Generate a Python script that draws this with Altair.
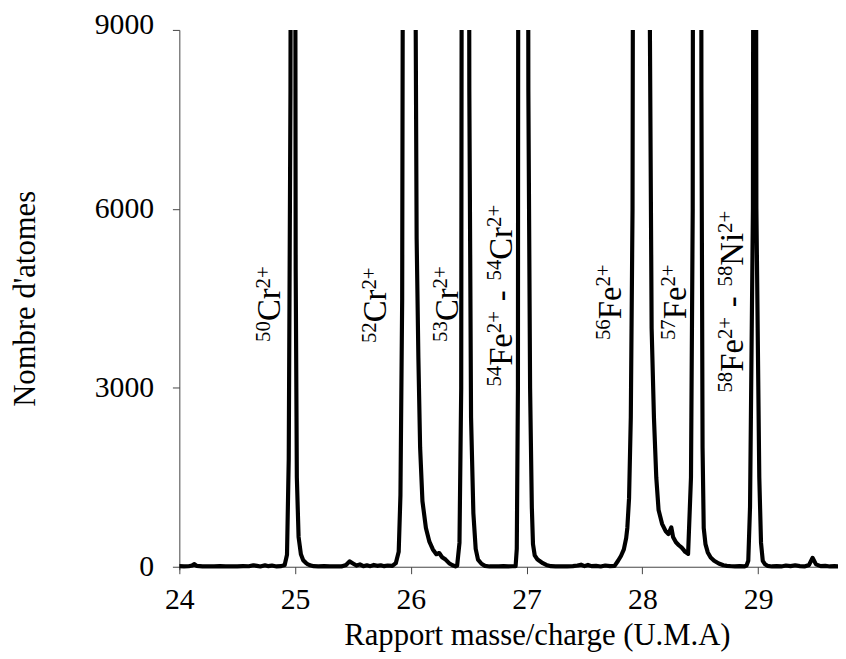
import altair as alt
import pandas as pd

# ---------------- data ----------------
mz = [
    24.00, 24.04, 24.08, 24.11, 24.13, 24.15, 24.20, 24.25, 24.30, 24.35, 24.40, 24.45,
    24.50, 24.55, 24.60, 24.64, 24.67, 24.70, 24.74, 24.77, 24.80, 24.84, 24.88, 24.91,
    24.93, 24.945, 24.96, 24.975, 24.99, 25.005, 25.015, 25.03, 25.05, 25.07, 25.09, 25.11,
    25.13, 25.16,
    25.20, 25.25, 25.30, 25.35, 25.40, 25.44, 25.47, 25.50, 25.53, 25.56, 25.59, 25.62,
    25.65, 25.68, 25.71, 25.74, 25.77, 25.80, 25.84, 25.87,
    25.895, 25.91, 25.925, 25.94, 25.99, 26.035, 26.05, 26.065, 26.08, 26.10, 26.13, 26.16,
    26.19, 26.22, 26.245, 26.27, 26.30, 26.33, 26.36, 26.385,
    26.40, 26.42, 26.435, 26.45, 26.49, 26.505, 26.52, 26.54, 26.56, 26.58, 26.61, 26.64,
    26.68,
    26.72, 26.76, 26.80, 26.84, 26.88,
    26.905, 26.915, 26.925, 26.935, 27.00, 27.015, 27.03, 27.045, 27.055, 27.07, 27.09,
    27.11, 27.14, 27.17, 27.21,
    27.25, 27.30, 27.35, 27.40, 27.44, 27.47, 27.50, 27.53, 27.56, 27.60, 27.64, 27.68,
    27.72, 27.76,
    27.79, 27.815, 27.84, 27.86, 27.87, 27.885, 27.90, 27.915, 27.935, 28.05, 28.065,
    28.08, 28.10, 28.12, 28.14, 28.17, 28.20, 28.225, 28.25, 28.265, 28.29, 28.315,
    28.34, 28.37, 28.395,
    28.42, 28.435, 28.445, 28.50, 28.51, 28.52, 28.53, 28.545, 28.565, 28.59, 28.62,
    28.66, 28.70, 28.73, 28.77,
    28.80, 28.84, 28.88,
    28.90, 28.915, 28.93, 28.955, 28.97, 28.985, 29.01, 29.025, 29.04, 29.06, 29.08,
    29.12, 29.16, 29.20, 29.24, 29.28, 29.32, 29.36, 29.40, 29.44, 29.47, 29.50, 29.54,
    29.58, 29.62, 29.66, 29.72,
]
atoms = [
    10, 5, 8, 20, 45, 15, 5, 8, 5, 10, 5, 8,
    5, 10, 8, 25, 15, 5, 25, 10, 20, 5, 10, 30,
    200, 1800, 8000, 30000, 30000, 5000, 1500, 500, 210, 110, 70, 40,
    25, 10,
    5, 10, 5, 8, 5, 30, 90, 55, 20, 40, 10, 25,
    10, 30, 15, 25, 10, 20, 15, 60,
    250, 1200, 4500, 20000, 30000, 12000, 5500, 3500, 2000, 1100, 650, 420,
    290, 210, 230, 160, 120, 60, 25, 5,
    20, 400, 3000, 30000, 30000, 8000, 2500, 900, 300, 120, 50, 15,
    5,
    8, 5, 10, 5, 8,
    10, 300, 3000, 30000, 30000, 8000, 3000, 1000, 380, 190, 130,
    100, 60, 30, 10,
    5, 8, 5, 10, 20, 35, 10, 30, 10, 15, 5, 20,
    10, 15,
    100, 180, 290, 480, 650, 1150, 2500, 6000, 30000, 30000, 9000,
    4000, 2500, 1500, 950, 720, 600, 550, 660, 500, 410, 360,
    320, 250, 215,
    1500, 6000, 30000, 30000, 8000, 2000, 650, 380, 240, 155, 100,
    55, 25, 15, 8,
    5, 10, 5,
    20, 100, 1000, 6000, 30000, 6000, 1500, 400, 100, 40, 15,
    5, 10, 5, 20, 10, 25, 10, 5, 30, 150, 40, 10,
    15, 5, 10, 5,
]

x_ticks = [24, 25, 26, 27, 28, 29]
y_ticks = [0, 3000, 6000, 9000]

# Peak labels: anchor (m/z, atoms) of the start of each rotated label
label_x = [24.873, 25.789, 26.406, 26.877, 27.818, 28.375, 28.872]
label_y = [3770, 3750, 3770, 3020, 3800, 3800, 2920]
# (text, 1 = superscript / 0 = normal); " " = spacing only
label_parts = [
    [("50", 1), ("Cr", 0), ("2+", 1)],
    [("52", 1), ("Cr", 0), ("2+", 1)],
    [("53", 1), ("Cr", 0), ("2+", 1)],
    [("54", 1), ("Fe", 0), ("2+", 1), (" ", 0), ("-", 0), (" ", 0),
     ("54", 1), ("Cr", 0), ("2+", 1)],
    [("56", 1), ("Fe", 0), ("2+", 1)],
    [("57", 1), ("Fe", 0), ("2+", 1)],
    [("58", 1), ("Fe", 0), ("2+", 1), (" ", 0), ("-", 0), (" ", 0),
     ("58", 1), ("Ni", 0), ("2+", 1)],
]

# ---------------- layout ----------------
FONT = "Liberation Serif"
X_MIN, X_MAX = 24, 29.69
Y_MIN, Y_MAX = -50, 9000
W, H = 665, 545
BIG, SUP, SUP_RAISE = 33, 21, 11

px_per_x = W / (X_MAX - X_MIN)
cnt_per_px = (Y_MAX - Y_MIN) / H

EM = {str(d): 0.5 for d in range(10)}
EM.update({"+": 0.564, "-": 0.333, " ": 0.3, "C": 0.667, "r": 0.333,
           "F": 0.556, "e": 0.444, "N": 0.722, "i": 0.278})

rows = []
for lx, ly, parts in zip(label_x, label_y, label_parts):
    cursor = 0.0
    for txt, sup in parts:
        size = SUP if sup else BIG
        if txt.strip():
            rows.append({
                "x": lx - (SUP_RAISE if sup else 0) / px_per_x,
                "y": ly + cursor * cnt_per_px,
                "t": txt,
                "s": size,
            })
        cursor += sum(EM[c] for c in txt) * size
labels_df = pd.DataFrame(rows)

spec_df = pd.DataFrame({"mz": mz, "atoms": atoms})

x_scale = alt.Scale(domain=[X_MIN, X_MAX], nice=False, zero=False)
y_scale = alt.Scale(domain=[Y_MIN, Y_MAX], nice=False, zero=False)

line = alt.Chart(spec_df).mark_line(
    color="black", strokeWidth=4.2, clip=True, strokeJoin="round", strokeCap="round"
).encode(
    x=alt.X("mz:Q", scale=x_scale, axis=alt.Axis(
        values=x_ticks, format="d", grid=False,
        title="Rapport masse/charge (U.M.A)",
        domainColor="#444444", tickColor="#444444", tickSize=7, domainWidth=1,
        labelFont=FONT, labelFontSize=30, labelColor="black", labelPadding=11,
        labelFlush=False, labelOverlap=False,
        titleFont=FONT, titleFontSize=31, titleFontWeight="normal", titleColor="black",
        titleX=361, titleY=79, titleAlign="center", titleBaseline="alphabetic",
        offset=-3,
    )),
    y=alt.Y("atoms:Q", scale=y_scale, axis=alt.Axis(
        values=y_ticks, format="d", grid=False,
        title="Nombre d'atomes",
        domainColor="#444444", tickColor="#444444", tickSize=7, domainWidth=1,
        labelFont=FONT, labelFontSize=30, labelColor="black", labelPadding=19,
        labelFlush=False, labelOverlap=False,
        labelOffset=alt.condition("datum.value == 9000", alt.value(-5), alt.value(0)),
        titleFont=FONT, titleFontSize=31, titleFontWeight="normal", titleColor="black",
        titleAngle=270, titleX=-146, titleY=271, titleAlign="center",
        titleBaseline="alphabetic",
    )),
)

text = alt.Chart(labels_df).mark_text(
    angle=270, align="left", baseline="alphabetic", font=FONT, color="black"
).encode(
    x=alt.X("x:Q", scale=x_scale),
    y=alt.Y("y:Q", scale=y_scale),
    text="t:N",
    size=alt.Size("s:Q", scale=None, legend=None),
)

chart = alt.layer(line, text).properties(
    width=W, height=H,
    autosize=alt.AutoSizeParams(type="none"),
    padding={"left": 173, "top": 19, "right": 0, "bottom": 87},
).configure_view(stroke=None)

chart.save("out.html", embed_options={"renderer": "svg", "actions": False})
